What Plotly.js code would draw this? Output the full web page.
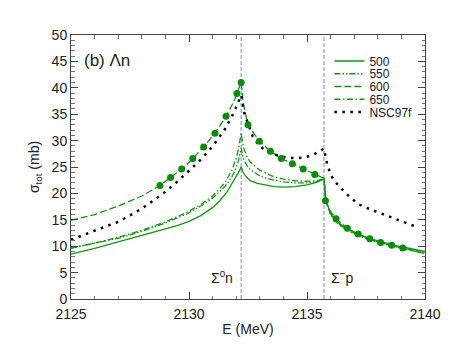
<!DOCTYPE html>
<html><head><meta charset="utf-8">
<script src="https://cdn.plot.ly/plotly-3.0.1.min.js"></script>
<style>html,body{margin:0;padding:0;background:#fff}</style>
</head><body><div id="chart" style="width:458px;height:354px"></div>
<script>
// ---- data ----
const x500 = [2125, 2125.5, 2126, 2126.5, 2127, 2127.5, 2128, 2128.5, 2129, 2129.5, 2130, 2130.5, 2131, 2131.3, 2131.6, 2131.9, 2132.1, 2132.21, 2132.3, 2132.45, 2132.6, 2132.9, 2133.2, 2133.6, 2134, 2134.5, 2135, 2135.4, 2135.65, 2135.72, 2135.8, 2136, 2136.2, 2136.5, 2136.8, 2137.2, 2137.7, 2138.1, 2138.6, 2139.1, 2139.6, 2140];
const y500 = [8.5, 9.0, 9.6, 10.2, 10.8, 11.4, 12.0, 12.6, 13.3, 13.9, 14.7, 15.8, 17.3, 18.6, 20.2, 22.4, 24.0, 25.0, 23.9, 23.0, 22.4, 21.9, 21.6, 21.3, 21.2, 21.3, 21.6, 22.1, 22.6, 22.8, 18.6, 16.3, 15.0, 13.9, 13.1, 12.2, 11.4, 10.9, 10.3, 9.8, 9.3, 9.0];

const xThin = [2125, 2126, 2127, 2128, 2129, 2129.9, 2130.5, 2131, 2131.5, 2131.8, 2132.0, 2132.1, 2132.21, 2132.3, 2132.45, 2132.6, 2133, 2133.5, 2134, 2134.5, 2135, 2135.4, 2135.65, 2135.72, 2135.8, 2136, 2136.2, 2136.5, 2136.8, 2137.2, 2137.7, 2138.1, 2138.6, 2139.1, 2139.6, 2140];
const y550 = [9.6, 10.5, 11.5, 12.8, 14.4, 16.1, 17.6, 19.1, 21.2, 23.0, 24.8, 26.3, 28.6, 26.6, 25.3, 24.5, 23.3, 22.6, 22.2, 22.0, 22.0, 22.2, 22.5, 22.7, 18.5, 16.1, 14.8, 13.7, 12.9, 12.0, 11.2, 10.7, 10.1, 9.6, 9.2, 8.9];
const y650 = [9.7, 10.6, 11.7, 13.0, 14.6, 16.4, 17.9, 19.5, 21.9, 24.2, 26.6, 28.5, 31.4, 28.8, 27.0, 25.9, 24.4, 23.3, 22.7, 22.4, 22.3, 22.4, 22.7, 22.8, 18.4, 16.0, 14.7, 13.6, 12.8, 11.9, 11.1, 10.6, 10.0, 9.5, 9.0, 8.7];

const x600 = [2125, 2126, 2127, 2128, 2128.77, 2129.22, 2129.69, 2130.16, 2130.62, 2131.1, 2131.57, 2131.9, 2132.03, 2132.12, 2132.21, 2132.3, 2132.5, 2132.98, 2133.45, 2133.91, 2134.38, 2134.84, 2135.33, 2135.6, 2135.72, 2135.78, 2136.0, 2136.23, 2136.71, 2137.17, 2137.66, 2138.12, 2138.59, 2139.06, 2139.5, 2140];
const y600 = [14.9, 16.0, 17.6, 19.5, 21.5, 23.0, 24.6, 26.6, 28.8, 31.4, 34.6, 37.4, 38.9, 39.9, 41.0, 37.0, 33.0, 29.9, 28.0, 26.6, 25.6, 24.6, 23.6, 23.1, 22.9, 18.6, 16.6, 15.2, 13.4, 12.3, 11.4, 10.7, 10.2, 9.6, 9.1, 8.6];

const xDots = [2128.77, 2129.22, 2129.69, 2130.16, 2130.62, 2131.10, 2131.57, 2132.03, 2132.21, 2132.50, 2132.98, 2133.45, 2133.91, 2134.38, 2134.84, 2135.33, 2135.78, 2136.23, 2136.71, 2137.17, 2137.66, 2138.12, 2138.59, 2139.06];
const yDots = [21.5, 23.0, 24.6, 26.6, 28.8, 31.4, 34.6, 38.9, 41.0, 33.0, 29.9, 28.0, 26.6, 25.6, 24.6, 23.6, 18.6, 15.2, 13.4, 12.3, 11.4, 10.7, 10.2, 9.66];

const xNSC = [2125.0, 2125.5, 2126.0, 2126.5, 2127.0, 2127.5, 2128.0, 2128.5, 2129.0, 2129.5, 2130.0, 2130.5, 2131.0, 2131.5, 2131.9, 2132.1, 2132.21, 2132.35, 2132.5, 2132.7, 2132.9, 2133.2, 2133.5, 2133.9, 2134.2, 2134.6, 2134.9, 2135.25, 2135.55, 2135.72, 2135.85, 2136.0, 2136.15, 2136.4, 2136.65, 2136.9, 2137.2, 2137.5, 2137.85, 2138.2, 2138.5, 2138.85, 2139.2, 2139.55];
const yNSC = [11.2, 12.1, 13.0, 13.8, 14.6, 15.8, 17.1, 18.7, 20.3, 22.2, 24.3, 26.4, 28.9, 32.0, 35.3, 37.4, 38.6, 35.1, 33.3, 30.8, 29.5, 28.2, 27.5, 27.0, 26.7, 26.7, 26.8, 27.3, 28.1, 28.5, 25.6, 23.6, 22.4, 21.1, 20.0, 19.0, 17.9, 17.3, 16.7, 16.2, 15.6, 15.0, 14.5, 13.8];

const thresholds = [2132.21, 2135.72];
const thresholdLabels = ['Σ<sup>0</sup>n', 'Σ<sup>−</sup>p'];
const seriesNames = ['500', '550', '600', '650', 'NSC97f'];

// ---- styles ----
const green = 'rgb(20,150,20)';
const font = 'Liberation Sans, Arial, sans-serif';
const legendIds = ['legend', 'legend2', 'legend3', 'legend4', 'legend5'];

const traces = [
  {x: x500, y: y500, name: seriesNames[0], legend: legendIds[0], mode: 'lines', line: {color: green, width: 1.3}},
  {x: xThin, y: y550, name: seriesNames[1], legend: legendIds[1], mode: 'lines', line: {color: green, width: 1.3, dash: '6px,2px,1.5px,2px,1.5px,2px'}},
  {x: x600, y: y600, name: seriesNames[2], legend: legendIds[2], mode: 'lines', line: {color: green, width: 1.3, dash: '7px,3px'}},
  {x: xThin, y: y650, name: seriesNames[3], legend: legendIds[3], mode: 'lines', line: {color: green, width: 1.3, dash: '6px,2.5px,1.5px,2.5px'}},
  {x: xNSC, y: yNSC, name: seriesNames[4], legend: legendIds[4], mode: 'lines', line: {color: 'black', width: 2.5, dash: '2.5px,5.5px'}},
  {x: xDots, y: yDots, mode: 'markers', showlegend: false, hoverinfo: 'skip', marker: {color: 'rgb(10,140,10)', size: 7}}
];

const shapes = thresholds.map(t => ({
  type: 'line', xref: 'x', yref: 'paper', x0: t, x1: t, y0: 0, y1: 1,
  line: {color: 'rgb(125,125,255)', width: 1, dash: '4px,2px'}, layer: 'below'
}));

const annotations = [
  {text: '(b) Λn', xref: 'paper', yref: 'paper', x: 0.03, y: 0.905, xanchor: 'left', yanchor: 'middle', showarrow: false, font: {family: font, size: 17, color: '#222'}},
  {text: thresholdLabels[0], xref: 'x', yref: 'y', x: thresholds[0] - 0.27, y: 4.2, xanchor: 'right', yanchor: 'middle', showarrow: false, font: {family: font, size: 14, color: '#222'}},
  {text: thresholdLabels[1], xref: 'x', yref: 'y', x: thresholds[1] + 0.22, y: 4.2, xanchor: 'left', yanchor: 'middle', showarrow: false, font: {family: font, size: 14, color: '#222'}}
];

const axisCommon = {
  showline: true, linecolor: '#444', linewidth: 1, mirror: 'ticks',
  ticks: 'inside', ticklen: 7, tickcolor: '#444', tickwidth: 1,
  showgrid: false, zeroline: false,
  tickfont: {family: font, size: 14, color: '#222'},
  minor: {dtick: 1, ticks: 'inside', ticklen: 3.5, tickcolor: '#777', tickwidth: 1}
};

const layout = {
  width: 458, height: 354,
  margin: {l: 71, r: 33, t: 35, b: 55},
  paper_bgcolor: 'white', plot_bgcolor: 'white',
  font: {family: font, color: '#222'},
  showlegend: true,
  xaxis: Object.assign({}, axisCommon, {range: [2125, 2140], dtick: 5, tick0: 2125, ticklabelstandoff: 2,
    title: {text: 'E (MeV)', font: {family: font, size: 14, color: '#222'}, standoff: 3}}),
  yaxis: Object.assign({}, axisCommon, {range: [0, 50], dtick: 5, tick0: 0,
    title: {text: 'σ<sub>tot</sub> (mb)', font: {family: font, size: 14, color: '#222'}, standoff: 8}}),
  shapes: shapes,
  annotations: annotations
};

// one single-entry legend per series so entries sit as tightly as in the reference
const legendCenters = [0.9015, 0.8532, 0.8049, 0.7566, 0.7083];
legendIds.forEach((id, i) => {
  layout[id] = {x: 0.73, y: legendCenters[i], xanchor: 'left', yanchor: 'middle',
    bgcolor: 'rgba(0,0,0,0)', borderwidth: 0,
    font: {family: font, size: 12, color: '#222'}};
});

Plotly.newPlot('chart', traces, layout, {displayModeBar: false, staticPlot: true});
</script>
</body></html>
